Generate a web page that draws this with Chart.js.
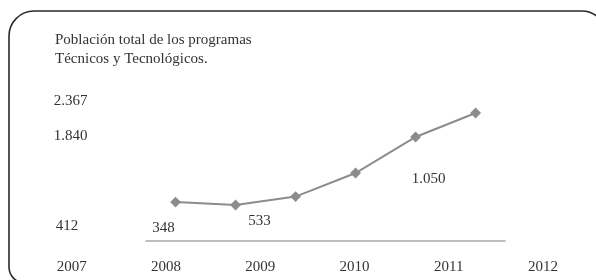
<!DOCTYPE html>
<html>
<head>
<meta charset="utf-8">
<script src="https://cdn.jsdelivr.net/npm/chart.js@4/dist/chart.umd.min.js"></script>
<style>
  html, body { margin: 0; padding: 0; background: #fff; overflow: hidden; }
  canvas { display: block; }
</style>
</head>
<body>
<canvas id="c" width="596" height="280"></canvas>
<script>
// ---- data ----
const yearLabels = ['2007', '2008', '2009', '2010', '2011', '2012'];
const pointIndex = [0, 1, 2, 3, 4, 5];
const population = [412, 348, 533, 1050, 1840, 2367];
const titleLines = ['Población total de los programas', 'Técnicos y Tecnológicos.'];

// ---- styling: label offsets (px) from each point ----
const labelOffsets = [[-108.5, 24], [-72, 23], [-36, 24], [73, 6], [-345, -1], [-405, -12]];

const fmt = v => v.toLocaleString('de-DE');

const framePlugin = {
  id: 'frame',
  beforeDraw(chart) {
    const ctx = chart.ctx;
    ctx.save();
    ctx.fillStyle = '#fff';
    ctx.fillRect(0, 0, chart.width, chart.height);
    ctx.strokeStyle = '#2a2a2a';
    ctx.lineWidth = 1.6;
    ctx.beginPath();
    ctx.moveTo(60, 283);
    ctx.arcTo(9, 283, 9, 240, 16);
    ctx.arcTo(9, 11, 60, 11, 25);
    ctx.arcTo(606, 11, 606, 60, 24);
    ctx.lineTo(606, 283);
    ctx.stroke();
    ctx.restore();
  }
};

const textPlugin = {
  id: 'texts',
  afterDatasetsDraw(chart) {
    const ctx = chart.ctx;
    const meta = chart.getDatasetMeta(0);
    const xs = chart.scales.xd;
    const ca = chart.chartArea;
    ctx.save();
    // baseline rule
    ctx.strokeStyle = '#a8a8a8';
    ctx.lineWidth = 1.5;
    ctx.beginPath();
    ctx.moveTo(xs.getPixelForValue(-0.5), ca.bottom);
    ctx.lineTo(xs.getPixelForValue(5.5), ca.bottom);
    ctx.stroke();
    // value labels
    ctx.fillStyle = '#333';
    ctx.font = '15px "Liberation Serif"';
    ctx.textAlign = 'center';
    ctx.textBaseline = 'middle';
    meta.data.forEach((pt, i) => {
      const o = labelOffsets[i];
      ctx.fillText(fmt(population[i]), pt.x + o[0], pt.y + o[1]);
    });
    // title
    ctx.font = '15px "Liberation Serif"';
    ctx.textAlign = 'left';
    titleLines.forEach((t, i) => ctx.fillText(t, 55, 40 + i * 19));
    ctx.restore();
  }
};

new Chart(document.getElementById('c'), {
  type: 'line',
  data: {
    labels: yearLabels,
    datasets: [{
      data: pointIndex.map((x, i) => ({ x: x, y: population[i] })),
      xAxisID: 'xd',
      yAxisID: 'y',
      borderColor: '#8c8c8c',
      backgroundColor: '#8c8c8c',
      borderWidth: 2,
      pointStyle: 'rectRot',
      pointRadius: 4,
      pointBackgroundColor: '#8c8c8c',
      pointBorderColor: '#8c8c8c',
      tension: 0
    }]
  },
  options: {
    responsive: false,
    animation: false,
    layout: { padding: { left: 24.75, right: 4.25, top: 20, bottom: -13 } },
    plugins: { legend: { display: false }, tooltip: { enabled: false }, title: { display: false } },
    scales: {
      x: {
        type: 'category',
        position: 'bottom',
        offset: true,
        grid: { display: false, drawTicks: false },
        border: { display: false },
        ticks: { color: '#333', font: { family: 'Liberation Serif', size: 15 }, padding: 17, maxRotation: 0, autoSkip: false }
      },
      xd: {
        type: 'linear',
        display: false,
        min: -2.5125,
        max: 6.906
      },
      y: {
        type: 'linear',
        display: false,
        min: -442,
        max: 4408
      }
    }
  },
  plugins: [framePlugin, textPlugin]
});
</script>
</body>
</html>
